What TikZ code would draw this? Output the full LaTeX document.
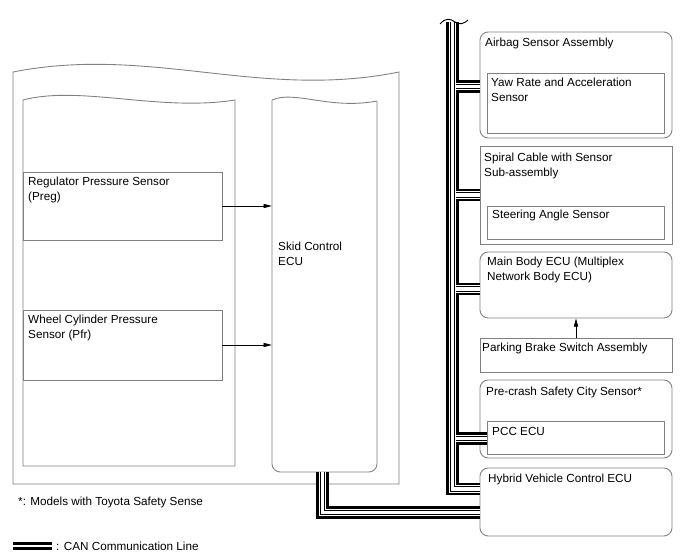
\documentclass[tikz,border=0pt]{standalone}
\usepackage{fontspec}
\setmainfont{Liberation Sans}
\usepackage{tikz}
\usetikzlibrary{arrows.meta,positioning,fit,calc}
\definecolor{dgFrame}{HTML}{808080}
\definecolor{dgWire}{HTML}{000000}
\tikzset{
  frame/.style={draw=dgFrame, line width=0.75pt},
  unitbox/.style={frame, inner sep=0pt, fit={#1}},
  ecubox/.style={unitbox={#1}, rounded corners=7pt},
  boxtext/.style={anchor=north west, inner sep=0pt, align=left, font=\fontsize{10}{12.4}\selectfont},
  can/.style={draw=dgWire, line width=10.8pt, line join=miter,
    postaction={draw=white, line width=6.8pt},
    postaction={draw=dgWire, line width=4.6pt},
    postaction={draw=white, line width=2.8pt}},
  canlegend/.style={draw=dgWire, line width=6pt,
    postaction={draw=white, line width=3.8pt},
    postaction={draw=dgWire, line width=2.6pt},
    postaction={draw=white, line width=1.2pt}},
  sig/.style={draw=dgWire, line width=0.6pt, -{Triangle[length=7pt,width=3.6pt]}}
}

\begin{document}
\begin{tikzpicture}[x=0.03cm, y=-0.03cm]
  \useasboundingbox (0,0) rectangle (688,560);

  \draw[frame] (13,72) .. controls (150,45) and (260,100) .. (399,72) -- (399,484) -- (13,484) -- cycle;
  \draw[frame] (23,100) .. controls (80,85) and (160,112) .. (235,100) -- (235,466) -- (23,466) -- cycle;
  \node[inner sep=0pt, fit={(272,100) (377,472)}] (skid) {};
  \draw[frame] (272,100) .. controls (295,90) and (330,110) .. (377,101);
  \draw[frame, rounded corners=7pt] (272,100) -- (272,472) -- (377,472) -- (377,101);
  \node[boxtext] (skidtext) at (278,242) {Skid Control\\ECU};

  \node[unitbox={(23,172) (222,240)}] (regsens) {};
  \node[boxtext] (regtext) at (28,177) {Regulator Pressure Sensor\\(Preg)};
  \node[unitbox={(23,310) (222,380)}] (wheelsens) {};
  \node[boxtext] (wheeltext) at (28,315) {Wheel Cylinder Pressure\\Sensor (Pfr)};

  \draw[sig] (regsens.east) -- (regsens.east -| skid.west);
  \draw[sig] (wheelsens.east) -- (wheelsens.east -| skid.west);

  \node[ecubox={(480,32) (672,138)}] (airbag) {};
  \node[boxtext] (airbagtext) at (485,38) {Airbag Sensor Assembly};
  \node[unitbox={(487,73) (664,133)}] (yaw) {};
  \node[boxtext] (yawtext) at (491,78) {Yaw Rate and Acceleration\\Sensor};

  \node[unitbox={(480,146) (672,244)}] (spiral) {};
  \node[boxtext] (spiraltext) at (484,153) {Spiral Cable with Sensor\\Sub-assembly};
  \node[unitbox={(487,206) (664,239)}] (steer) {};
  \node[boxtext] (steertext) at (492,210) {Steering Angle Sensor};

  \node[ecubox={(480,252) (672,318)}] (mainbody) {};
  \node[boxtext] (maintext) at (487,257) {Main Body ECU (Multiplex\\Network Body ECU)};

  \node[unitbox={(480,338) (672,372)}] (parking) {};
  \node[boxtext] (parkingtext) at (482,343) {Parking Brake Switch Assembly};
  \draw[sig] (parking.north) -- (mainbody.south);

  \node[ecubox={(480,380) (672,458)}] (precrash) {};
  \node[boxtext] (precrashtext) at (486,387) {Pre-crash Safety City Sensor*};
  \node[unitbox={(487,421) (664,454)}] (pcc) {};
  \node[boxtext] (pcctext) at (492,427) {PCC ECU};

  \node[ecubox={(480,468) (672,536)}] (hv) {};
  \node[boxtext] (hvtext) at (488,474) {Hybrid Vehicle Control ECU};

  \coordinate (bustop) at (452.5,22);
  \coordinate (busbot) at (452.5,489);
  \draw[can] (bustop) -- (busbot) -- (busbot -| hv.west);
  \draw[dgWire, line width=0.8pt] (440,24) .. controls (446,17) and (451,19) .. (455,22) .. controls (459,25) and (464,24) .. (468,20);

  \coordinate (tapairbag) at (455.5,86.5);
  \coordinate (tapspiral) at (455.5,195);
  \coordinate (tapmain) at (455.5,289);
  \coordinate (tappcc) at (455.5,438.5);
  \draw[can] (tapairbag) -- (tapairbag -| airbag.west);
  \draw[can] (tapspiral) -- (tapspiral -| spiral.west);
  \draw[can] (tapmain) -- (tapmain -| mainbody.west);
  \draw[can] (tappcc) -- (tappcc -| pcc.west);

  \coordinate (skidout) at (322.5,472);
  \coordinate (skidbend) at (322.5,512.5);
  \draw[can] (skidout) -- (skidbend) -- (skidbend -| hv.west);

  \node[boxtext] (note) at (18,497) {*: Models with Toyota Safety Sense};
  \coordinate (legstart) at (13,546);
  \coordinate (legend) at (52,546);
  \draw[canlegend] (legstart) -- (legend);
  \node[boxtext] (legendtext) at (56,542) {: CAN Communication Line};
\end{tikzpicture}
\end{document}
